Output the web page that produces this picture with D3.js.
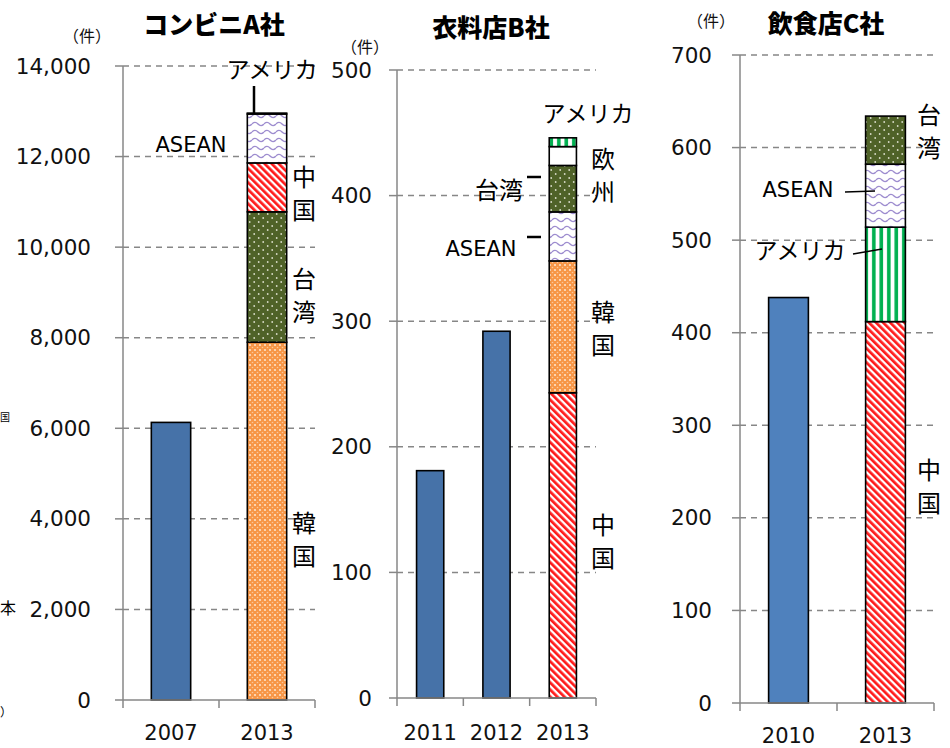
<!DOCTYPE html>
<html><head><meta charset="utf-8">
<script src="https://cdn.jsdelivr.net/npm/d3@7/dist/d3.min.js"></script>
<style>
body{margin:0;background:#fff;}
svg{display:block;}
</style></head>
<body>
<svg id="chart" width="950" height="748"></svg>
<script>
// ---------- DATA ----------
const aCategories = ["2007", "2013"];
const aSingle = [6130];
const aSegNames = ["韓国", "台湾", "中国", "ASEAN", "アメリカ"];
const aSegValues = [7900, 2880, 1080, 1080, 20];
const aTicks = [0, 2000, 4000, 6000, 8000, 10000, 12000, 14000];

const bCategories = ["2011", "2012", "2013"];
const bSingle = [181, 292];
const bSegNames = ["中国", "韓国", "ASEAN", "台湾", "欧州", "アメリカ"];
const bSegValues = [243, 105, 39, 37, 15, 7];
const bTicks = [0, 100, 200, 300, 400, 500];

const cCategories = ["2010", "2013"];
const cSingle = [438];
const cSegNames = ["中国", "アメリカ", "ASEAN", "台湾"];
const cSegValues = [412, 102, 68, 52];
const cTicks = [0, 100, 200, 300, 400, 500, 600, 700];

const titles = ["コンビニA社", "衣料店B社", "飲食店C社"];
const unitLabel = "（件）";

// ---------- STYLE ----------
const NUM_FONT = "'DejaVu Sans', 'Noto Sans', sans-serif";
const JP_FONT = "'Noto Sans CJK JP', 'Noto Sans', sans-serif";
const GRID = "#878787";

const svg = d3.select("#chart");
const defs = svg.append("defs");

function pat(id, w, h, transform) {
  const p = defs.append("pattern").attr("id", id).attr("patternUnits", "userSpaceOnUse")
    .attr("width", w).attr("height", h);
  if (transform) p.attr("patternTransform", transform);
  return p;
}
// 韓国: orange with light lattice
{
  const p = pat("pKorea", 5, 5);
  p.append("rect").attr("width", 5).attr("height", 5).attr("fill", "#f79646");
  [[0,0],[5,0],[0,5],[5,5]].forEach(([cx,cy]) =>
    p.append("circle").attr("cx", cx).attr("cy", cy).attr("r", 1.1).attr("fill", "#fde3c9"));
  p.append("circle").attr("cx", 2.5).attr("cy", 2.5).attr("r", 0.8).attr("fill", "#fbc89a");
}
// 台湾: olive with white dots
{
  const p = pat("pTaiwan", 9, 8);
  p.append("rect").attr("width", 9).attr("height", 8).attr("fill", "#4f6228");
  p.append("circle").attr("cx", 2.2).attr("cy", 2).attr("r", 0.9).attr("fill", "#d8dcc8");
  p.append("circle").attr("cx", 6.7).attr("cy", 6).attr("r", 0.9).attr("fill", "#d8dcc8");
}
// 中国: red diagonal stripes
{
  const p = pat("pChina", 5, 5, "rotate(-45)");
  p.append("rect").attr("width", 5).attr("height", 5).attr("fill", "#ffffff");
  p.append("rect").attr("width", 2.7).attr("height", 5).attr("fill", "#ff1a1a");
}
// ASEAN: purple waves
{
  const p = pat("pAsean", 12, 8);
  p.append("rect").attr("width", 12).attr("height", 8).attr("fill", "#ffffff");
  p.append("path").attr("d", "M0,4 Q3,0.8 6,4 T12,4").attr("fill", "none")
    .attr("stroke", "#9d8ccf").attr("stroke-width", 1.4);
}
// アメリカ: green vertical stripes
{
  const p = pat("pUSA", 7.5, 10);
  p.append("rect").attr("width", 7.5).attr("height", 10).attr("fill", "#ffffff");
  p.append("rect").attr("x", 2).attr("width", 3.6).attr("height", 10).attr("fill", "#00b050");
}
const fills = {
  "韓国": "url(#pKorea)", "台湾": "url(#pTaiwan)", "中国": "url(#pChina)",
  "ASEAN": "url(#pAsean)", "アメリカ": "url(#pUSA)", "欧州": "#ffffff"
};

function panel(cfg) {
  const g = svg.append("g");
  const x = d3.scaleBand().domain(cfg.cats).range(cfg.xRange).padding(0);
  const y = d3.scaleLinear().domain([0, d3.max(cfg.ticks)]).range(cfg.yRange);
  const ax = cfg.xRange[0], ex = cfg.xRange[1];
  const bw = x.bandwidth() * 0.41;

  g.selectAll(".grid").data(cfg.ticks.filter(t => t > 0)).join("line")
    .attr("x1", ax).attr("x2", ex).attr("y1", d => y(d)).attr("y2", d => y(d))
    .attr("stroke", GRID).attr("stroke-width", 1.5).attr("stroke-dasharray", "6,5");
  g.selectAll(".ytick").data(cfg.ticks).join("line")
    .attr("x1", ax - 8).attr("x2", ax).attr("y1", d => y(d)).attr("y2", d => y(d))
    .attr("stroke", GRID).attr("stroke-width", 1.5);
  g.append("line").attr("x1", ax).attr("x2", ax).attr("y1", y(d3.max(cfg.ticks))).attr("y2", y(0))
    .attr("stroke", GRID).attr("stroke-width", 1.5);
  g.selectAll(".ylab").data(cfg.ticks).join("text")
    .attr("x", ax - cfg.labelGap).attr("y", d => y(d))
    .attr("text-anchor", "end").attr("dominant-baseline", "central")
    .attr("font-family", NUM_FONT).attr("font-size", 21.5).attr("fill", "#111")
    .text(d => d3.format(",")(d));

  const singles = cfg.single.map((v, i) => ({ cat: cfg.cats[i], v }));
  g.selectAll(".bar").data(singles).join("rect")
    .attr("x", d => x(d.cat) + (x.bandwidth() - bw) / 2).attr("width", bw)
    .attr("y", d => y(d.v)).attr("height", d => y(0) - y(d.v))
    .attr("fill", cfg.blue).attr("stroke", "#000").attr("stroke-width", 1.6);

  const lastCat = cfg.cats[cfg.cats.length - 1];
  let acc = 0;
  const segs = cfg.segNames.map((n, i) => { const s = { n, y0: acc, y1: acc + cfg.segValues[i] }; acc += cfg.segValues[i]; return s; });
  g.selectAll(".seg").data(segs).join("rect")
    .attr("x", x(lastCat) + (x.bandwidth() - bw) / 2).attr("width", bw)
    .attr("y", d => y(d.y1)).attr("height", d => y(d.y0) - y(d.y1))
    .attr("fill", d => fills[d.n]).attr("stroke", "#000").attr("stroke-width", 1.6);

  g.append("line").attr("x1", ax).attr("x2", ex).attr("y1", y(0)).attr("y2", y(0))
    .attr("stroke", GRID).attr("stroke-width", 1.5);
  const bounds = cfg.cats.map(c => x(c)).concat([ex]);
  g.selectAll(".xtick").data(bounds).join("line")
    .attr("x1", d => d).attr("x2", d => d).attr("y1", y(0)).attr("y2", y(0) + 8)
    .attr("stroke", GRID).attr("stroke-width", 1.5);
  g.selectAll(".xlab").data(cfg.cats).join("text")
    .attr("x", d => x(d) + x.bandwidth() / 2).attr("y", cfg.catY)
    .attr("text-anchor", "middle").attr("dominant-baseline", "central")
    .attr("font-family", NUM_FONT).attr("font-size", 21).attr("fill", "#111")
    .text(d => d);

  svg.append("text").attr("x", cfg.titleX).attr("y", cfg.titleY)
    .attr("text-anchor", "middle").attr("dominant-baseline", "central")
    .attr("font-family", JP_FONT).attr("font-weight", 900).attr("font-size", 25)
    .attr("fill", "#000").text(cfg.title);
  svg.append("text").attr("x", cfg.unitX).attr("y", cfg.unitY)
    .attr("text-anchor", "middle").attr("dominant-baseline", "central")
    .attr("font-family", JP_FONT).attr("font-size", 16).attr("fill", "#111")
    .text(unitLabel);
  return { x, y };
}

panel({ cats: aCategories, single: aSingle, segNames: aSegNames, segValues: aSegValues, ticks: aTicks,
  xRange: [123, 315], yRange: [700, 66], labelGap: 32, catY: 733, blue: "#4672a8",
  title: titles[0], titleX: 214, titleY: 23, unitX: 87, unitY: 35 });
panel({ cats: bCategories, single: bSingle, segNames: bSegNames, segValues: bSegValues, ticks: bTicks,
  xRange: [397, 596], yRange: [698, 70], labelGap: 25, catY: 733, blue: "#4672a8",
  title: titles[1], titleX: 491, titleY: 26, unitX: 365, unitY: 46 });
panel({ cats: cCategories, single: cSingle, segNames: cSegNames, segValues: cSegValues, ticks: cTicks,
  xRange: [740, 934], yRange: [703, 55], labelGap: 28, catY: 736, blue: "#4f81bd",
  title: titles[2], titleX: 826, titleY: 22, unitX: 711, unitY: 20 });

// ---------- annotations ----------
function hLabel(t, x, y, anchor, size, font) {
  svg.append("text").attr("x", x).attr("y", y).attr("text-anchor", anchor || "start")
    .attr("dominant-baseline", "central").attr("font-family", font || JP_FONT)
    .attr("font-size", size || 23).attr("fill", "#000").text(t);
}
function vLabel(t, x, y, size, pitch) {
  Array.from(t).forEach((ch, i) => hLabel(ch, x, y + i * (pitch || 33), "middle", size || 24));
}
function leader(x1, y1, x2, y2, w) {
  svg.append("line").attr("x1", x1).attr("y1", y1).attr("x2", x2).attr("y2", y2)
    .attr("stroke", "#000").attr("stroke-width", w || 2.2);
}
// Panel A
hLabel("アメリカ", 272, 68, "middle", 23);
leader(254, 86, 254, 113, 2.5);
hLabel("ASEAN", 191, 145, "middle", 21, NUM_FONT);
vLabel("中国", 304, 175);
vLabel("台湾", 304, 277);
vLabel("韓国", 304, 521);
// Panel B
hLabel("アメリカ", 588, 112, "middle", 23);
vLabel("欧州", 603, 157);
hLabel("台湾", 499, 188, "middle", 24);
leader(527, 177, 541, 177, 2.5);
hLabel("ASEAN", 481, 249, "middle", 21, NUM_FONT);
leader(527, 237, 541, 237, 2.5);
vLabel("韓国", 603, 310);
vLabel("中国", 603, 523);
// Panel C
vLabel("台湾", 929, 113);
hLabel("ASEAN", 798, 190, "middle", 21, NUM_FONT);
leader(845, 192, 875, 191, 1.6);
hLabel("アメリカ", 800, 249, "middle", 23);
leader(853, 254, 882, 249, 1.6);
vLabel("中国", 929, 468);
// fragments at the left edge
hLabel("国", 0, 416, "start", 10);
hLabel("本", 0, 607, "start", 16);
hLabel("）", 0, 711, "start", 12);
</script>
</body></html>
